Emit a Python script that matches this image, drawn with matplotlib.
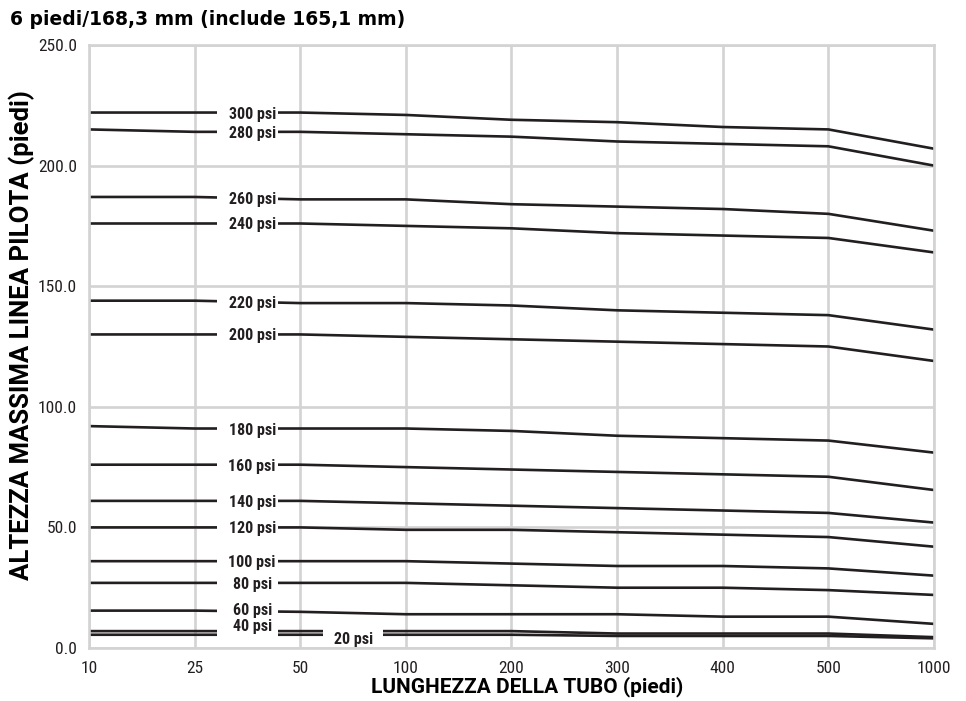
import numpy as np
from matplotlib import pyplot as plt
from matplotlib.patches import Rectangle

# lunghezza tubo (piedi) - categorie equispaziate
lengths = ['10', '25', '50', '100', '200', '300', '400', '500', '1000']

psi_labels = ['300 psi', '280 psi', '260 psi', '240 psi', '220 psi', '200 psi',
              '180 psi', '160 psi', '140 psi', '120 psi', '100 psi', '80 psi',
              '60 psi', '40 psi', '20 psi']

p300 = [222, 222, 222, 221, 219, 218, 216, 215, 207]
p280 = [215, 214, 214, 213, 212, 210, 209, 208, 200]
p260 = [187, 187, 186, 186, 184, 183, 182, 180, 173]
p240 = [176, 176, 176, 175, 174, 172, 171, 170, 164]
p220 = [144, 144, 143, 143, 142, 140, 139, 138, 132]
p200 = [130, 130, 130, 129, 128, 127, 126, 125, 119]
p180 = [92, 91, 91, 91, 90, 88, 87, 86, 81]
p160 = [76, 76, 76, 75, 74, 73, 72, 71, 65.5]
p140 = [61, 61, 61, 60, 59, 58, 57, 56, 52]
p120 = [50, 50, 50, 49, 49, 48, 47, 46, 42]
p100 = [36, 36, 36, 36, 35, 34, 34, 33, 30]
p80 = [27, 27, 27, 27, 26, 25, 25, 24, 22]
p60 = [15.5, 15.5, 15, 14, 14, 14, 13, 13, 10]
p40 = [7, 7, 7, 7, 7, 6, 6, 6, 4.5]
p20 = [5.5, 5.5, 5.5, 5.5, 5.5, 5, 5, 5, 4]

series = [p300, p280, p260, p240, p220, p200, p180, p160, p140,
          p120, p100, p80, p60, p40, p20]

ink = '#231f20'
grid_c = '#d3d3d3'
narrow = ['Roboto Condensed', 'Roboto', 'DejaVu Sans']
wide = ['Roboto', 'DejaVu Sans']

fig = plt.figure(figsize=(9.66, 7.01), dpi=100)
ax = fig.add_axes([0.0921, 0.0756, 0.8748, 0.8602])

x = np.arange(len(lengths))
for vals in series:
    ax.plot(x, vals, color=ink, linewidth=1.9, zorder=2, solid_capstyle='butt')

# etichette: la linea viene interrotta da un rettangolo bianco
for name, vals in zip(psi_labels, series):
    gx, tx, dy = 1.5, 1.545, 0
    if name == '60 psi':
        dy = 1.0
    if name == '40 psi':
        dy = 2.4
    if name == '20 psi':
        gx, tx, dy = 2.5, 2.505, -1.2
    ly = np.interp(gx, x, vals)
    if name in ('40 psi', '20 psi'):
        ax.add_patch(Rectangle((gx - 0.285, ly - 3.5), 0.57, 7.5, facecolor='white',
                               edgecolor='none', zorder=3))
    else:
        ax.add_patch(Rectangle((gx - 0.285, ly - 2.8), 0.57, 5.6, facecolor='white',
                               edgecolor='none', zorder=3))
    ax.text(tx, ly + dy, name, ha='center', va='center_baseline', fontsize=11.5,
            fontweight='bold', family=narrow, color=ink, zorder=4)

ax.set_xlim(0, len(lengths) - 1)
ax.set_ylim(0, 250)
ax.set_xticks(x)
ax.set_xticklabels(lengths)
ax.set_yticks([0, 50, 100, 150, 200, 250])
ax.set_yticklabels(['%.1f' % v for v in [0, 50, 100, 150, 200, 250]])
ax.tick_params(axis='both', length=0, labelsize=12.5, labelcolor=ink)
ax.tick_params(axis='x', pad=9)
ax.tick_params(axis='y', pad=8.5)
for lab in ax.get_xticklabels() + ax.get_yticklabels():
    lab.set_family(narrow)

ax.grid(True, color=grid_c, linewidth=1.9, zorder=0)
ax.set_axisbelow(True)
for s in ax.spines.values():
    s.set_color(grid_c)
    s.set_linewidth(1.9)

ax.set_xlabel('LUNGHEZZA DELLA TUBO (piedi)', fontsize=15, fontweight='bold',
              family=wide, color='black')
ax.set_ylabel('ALTEZZA MASSIMA LINEA PILOTA (piedi)', fontsize=18.5, fontweight='bold',
              family=wide, color='black')
ax.xaxis.set_label_coords(0.519, -0.0464)
ax.yaxis.set_label_coords(-0.064, 0.519)

fig.text(0.0104, 0.972, '6 piedi/168,3 mm (include 165,1 mm)', fontsize=13.5,
         fontweight='bold', color='black', ha='left', va='center')

plt.savefig('out.png', dpi=100)
